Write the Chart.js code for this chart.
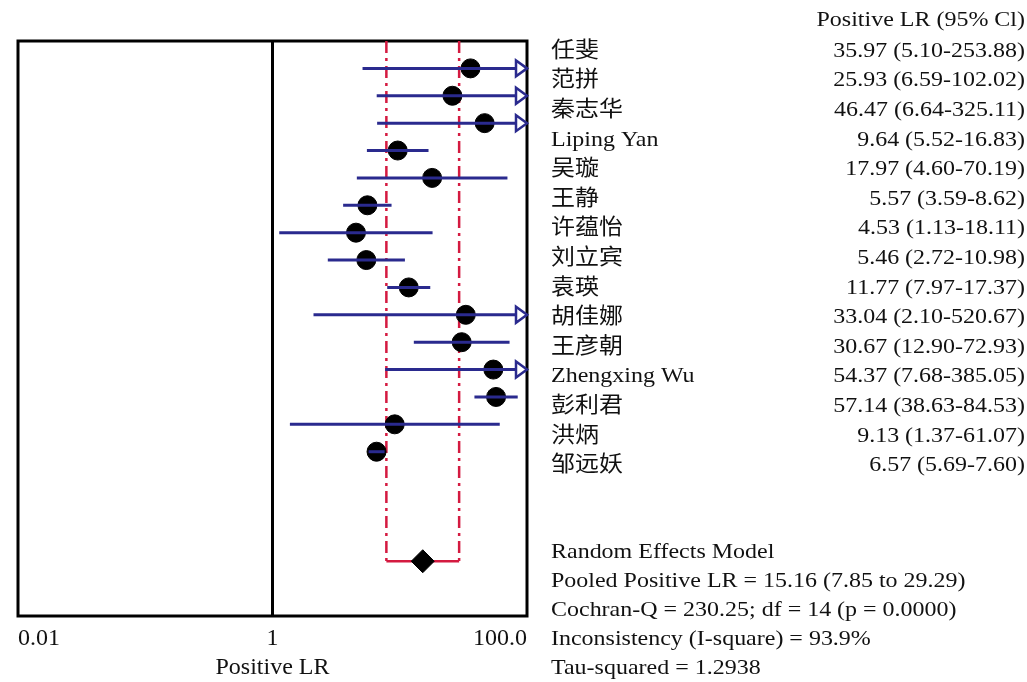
<!DOCTYPE html>
<html lang="zh">
<head>
<meta charset="UTF-8">
<title>Positive LR forest plot</title>
<script src="https://cdn.jsdelivr.net/npm/chart.js"></script>
<style>
  body { margin: 0; background: #fff; }
  #wrap { width: 1027px; height: 682px; }
</style>
</head>
<body>
<div id="wrap"><canvas id="forest" width="1027" height="682"></canvas></div>
<script>
// study data
const studies = ['任斐', '范拼', '秦志华', 'Liping Yan', '吴璇', '王静', '许蕴怡', '刘立宾',
                 '袁瑛', '胡佳娜', '王彦朝', 'Zhengxing Wu', '彭利君', '洪炳', '邹远妖'];
const lr   = [35.97, 25.93, 46.47, 9.64, 17.97, 5.57, 4.53, 5.46, 11.77, 33.04, 30.67, 54.37, 57.14, 9.13, 6.57];
const ciLo = [5.10, 6.59, 6.64, 5.52, 4.60, 3.59, 1.13, 2.72, 7.97, 2.10, 12.90, 7.68, 38.63, 1.37, 5.69];
const ciHi = [253.88, 102.02, 325.11, 16.83, 70.19, 8.62, 18.11, 10.98, 17.37, 520.67, 72.93, 385.05, 84.53, 61.07, 7.60];

// pooled estimate (random effects)
const pooled = [15.16];
const pooledLo = [7.85];
const pooledHi = [29.29];
const pooledRow = 19;

const xTicks = [0.01, 1, 100];
const xTickLabels = ['0.01', '1', '100.0'];
const header = 'Positive LR (95% Cl)';
const stats = [
    'Random Effects Model',
    'Pooled Positive LR = 15.16 (7.85 to 29.29)',
    'Cochran-Q = 230.25; df = 14 (p = 0.0000)',
    'Inconsistency (I-square) = 93.9%',
    'Tau-squared = 1.2938'
];

const FONT = '"Liberation Serif", "Noto Sans CJK SC", serif';
const ciColor = '#2a2a8e';
const red = '#d41a40';

const datasets = [];

// CI whiskers, drawn over the markers
studies.forEach((name, i) => {
    datasets.push({
        type: 'line',
        data: [{ x: ciLo[i], y: i + 1 }, { x: ciHi[i], y: i + 1 }],
        borderColor: ciColor,
        borderWidth: 3,
        pointRadius: 0,
        order: 1
    });
});

datasets.push({
    type: 'scatter',
    data: lr.map((v, i) => ({ x: v, y: i + 1 })),
    pointRadius: 9.5,
    pointBackgroundColor: '#000',
    pointBorderColor: '#000',
    order: 2
});

// pooled diamond
datasets.push({
    type: 'scatter',
    data: pooled.map(v => ({ x: v, y: pooledRow })),
    pointStyle: 'rectRot',
    pointRadius: 11.5,
    pointBackgroundColor: '#000',
    pointBorderColor: '#000',
    order: 2
});

// pooled CI: dashed verticals + solid bracket
[pooledLo[0], pooledHi[0]].forEach(v => {
    datasets.push({
        type: 'line',
        data: [{ x: v, y: 0 }, { x: v, y: pooledRow }],
        borderColor: red,
        borderWidth: 2.5,
        borderDash: [12, 5, 3, 5],
        pointRadius: 0,
        order: 3
    });
});
datasets.push({
    type: 'line',
    data: [{ x: pooledLo[0], y: pooledRow }, { x: pooledHi[0], y: pooledRow }],
    borderColor: red,
    borderWidth: 2.5,
    pointRadius: 0,
    order: 3
});

// line of no effect
datasets.push({
    type: 'line',
    data: [{ x: 1, y: 0 }, { x: 1, y: 21 }],
    borderColor: '#000',
    borderWidth: 3,
    pointRadius: 0,
    order: 4
});

function stretchText(ctx, txt, x, y, align) {
    ctx.save();
    ctx.translate(x, y);
    ctx.scale(1.09, 1);
    ctx.textAlign = align;
    ctx.fillText(txt, 0, 0);
    ctx.restore();
}

const forestPlugin = {
    id: 'forest',
    beforeDatasetsDraw(chart) {
        const { ctx, chartArea: a } = chart;
        ctx.save();
        ctx.strokeStyle = '#000';
        ctx.lineWidth = 3;
        ctx.strokeRect(a.left, a.top, a.right - a.left, a.bottom - a.top);
        ctx.restore();
    },
    afterDatasetsDraw(chart) {
        const { ctx } = chart;
        const xs = chart.scales.x, ys = chart.scales.y;
        // open arrows where the CI runs past the axis
        ctx.save();
        ctx.strokeStyle = ciColor;
        ctx.fillStyle = '#fff';
        ctx.lineWidth = 2.5;
        ciHi.forEach((h, i) => {
            if (h <= xs.max) return;
            const tip = xs.getPixelForValue(xs.max);
            const y = ys.getPixelForValue(i + 1);
            ctx.beginPath();
            ctx.moveTo(tip, y);
            ctx.lineTo(tip - 11, y - 8);
            ctx.lineTo(tip - 11, y + 8);
            ctx.closePath();
            ctx.fill();
            ctx.stroke();
        });
        ctx.restore();
    },
    afterDraw(chart) {
        const { ctx } = chart;
        ctx.save();
        ctx.fillStyle = '#111';
        ctx.font = '22px ' + FONT;
        ctx.textBaseline = 'middle';
        stretchText(ctx, header, 1025, 20, 'right');
        studies.forEach((name, i) => {
            const y = 51 + i * 29.6;
            stretchText(ctx, name, 551, y, 'left');
            const s = lr[i].toFixed(2) + ' (' + ciLo[i].toFixed(2) + '-' + ciHi[i].toFixed(2) + ')';
            stretchText(ctx, s, 1025, y, 'right');
        });
        stats.forEach((s, i) => stretchText(ctx, s, 551, 552 + i * 29.1, 'left'));
        ctx.restore();
    }
};

new Chart(document.getElementById('forest'), {
    type: 'scatter',
    data: { datasets },
    plugins: [forestPlugin],
    options: {
        responsive: false,
        animation: false,
        layout: { padding: { left: 18, top: 41, right: 500, bottom: 0 } },
        plugins: { legend: { display: false }, tooltip: { enabled: false } },
        scales: {
            x: {
                type: 'logarithmic',
                min: 0.01,
                max: 100,
                grid: { display: false, drawTicks: false },
                border: { display: false },
                afterBuildTicks: s => { s.ticks = xTicks.map(v => ({ value: v })); },
                afterFit: s => { s.height = 66; },
                ticks: {
                    align: 'inner',
                    padding: 8,
                    color: '#111',
                    font: { family: FONT, size: 24 },
                    callback: (v, i) => xTickLabels[i]
                },
                title: {
                    display: true,
                    text: 'Positive LR',
                    color: '#111',
                    font: { family: FONT, size: 24 },
                    padding: { top: 0, bottom: 0 }
                }
            },
            y: {
                display: false,
                reverse: true,
                min: 0,
                max: 21
            }
        }
    }
});
</script>
</body>
</html>
